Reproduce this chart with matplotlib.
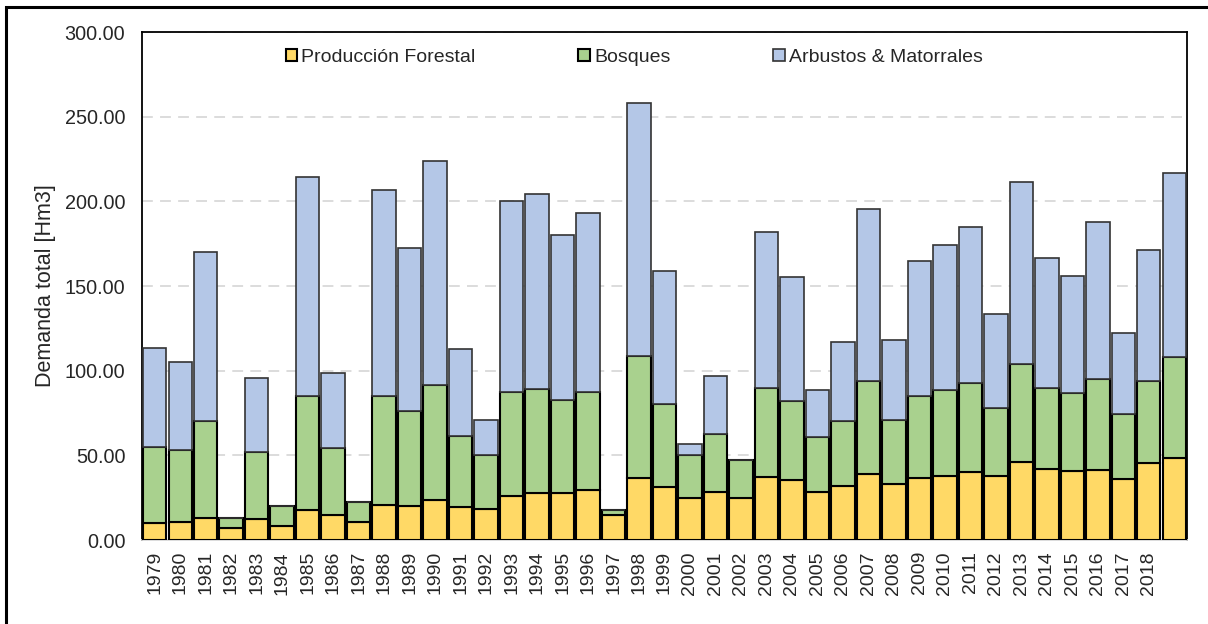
import matplotlib
matplotlib.use("Agg")
import matplotlib.pyplot as plt
from matplotlib.patches import Rectangle
import numpy as np

years = [str(y) for y in range(1979, 2019)] + [""]
# component values (stacked)
produccion = [9.8, 10.4, 12.8, 7.3, 12.2, 8.5, 17.9, 14.8, 10.4, 20.7,
              20.3, 23.6, 19.7, 18.3, 26.0, 27.9, 27.5, 29.7, 14.6, 36.6,
              31.1, 24.8, 28.5, 24.8, 37.2, 35.2, 28.3, 32.1, 38.8, 33.1,
              36.6, 37.8, 40.3, 38.0, 45.9, 42.1, 40.9, 41.5, 36.0, 45.3,
              48.2]
bosques_top = [54.7, 53.1, 70.4, 13.0, 52.1, 19.9, 85.0, 54.3, 22.4, 85.0,
               76.2, 91.3, 61.4, 50.2, 87.2, 89.1, 82.8, 87.6, 17.7, 108.8,
               80.5, 50.2, 62.8, 47.2, 89.7, 81.9, 60.8, 70.1, 94.1, 70.8,
               85.2, 88.5, 92.7, 78.1, 103.7, 89.7, 86.6, 95.2, 74.6, 93.9,
               107.8]
totales = [113.2, 104.9, 169.8, 13.0, 95.4, 19.9, 214.5, 98.6, 22.4, 206.4,
           172.2, 223.9, 112.9, 70.7, 200.3, 204.6, 179.9, 192.9, 17.7, 258.2,
           159.0, 56.9, 96.6, 47.2, 181.6, 155.1, 88.7, 116.7, 195.2, 117.9,
           164.7, 174.1, 184.6, 133.2, 211.5, 166.7, 156.0, 187.9, 122.2, 171.2,
           217.0]
series_names = ["Producción Forestal", "Bosques", "Arbustos & Matorrales"]
yticks = [0, 50, 100, 150, 200, 250, 300]

prod = np.array(produccion)
bosq = np.array(bosques_top) - prod
arb = np.array(totales) - np.array(bosques_top)

plt.rcParams['font.family'] = ['Liberation Sans', 'DejaVu Sans']

fig = plt.figure(figsize=(12.08, 6.24), dpi=100)
ax = fig.add_axes([142/1208, 1-540/624, (1187-142)/1208, (540-32)/624])

x = np.arange(len(years))
w = 0.92
c_prod = "#FFD966"
c_bosq = "#A9D18E"
c_arb = "#B4C7E7"
ax.bar(x, prod, w, color=c_prod, edgecolor="black", linewidth=1.5, label=series_names[0], zorder=3)
ax.bar(x, bosq, w, bottom=prod, color=c_bosq, edgecolor="black", linewidth=1.5, label=series_names[1], zorder=3)
ax.bar(x, arb, w, bottom=prod + bosq, color=c_arb, edgecolor="#333333", linewidth=1.2, label=series_names[2], zorder=3)

ax.set_xlim(-0.5, len(years) - 0.5)
ax.set_ylim(0, 300)
ax.set_yticks(yticks)
ax.set_yticklabels([f"{v:.2f}" for v in yticks], fontsize=14.3, color="#262626")
ax.set_xticks(x)
ax.set_xticklabels(years, rotation=90, fontsize=14, color="#262626")
ax.tick_params(axis="both", length=0)
ax.tick_params(axis="x", pad=8)
ax.tick_params(axis="y", pad=12)
ax.set_ylabel("Demanda total [Hm3]", fontsize=15.5, color="#262626", labelpad=6)

ax.yaxis.grid(True, color="#D9D9D9", linestyle=(0, (6, 4)), linewidth=1.3, zorder=0)
ax.set_axisbelow(True)
for s in ["left", "top", "right"]:
    ax.spines[s].set_color("black")
    ax.spines[s].set_linewidth(1.3)
ax.spines["bottom"].set_color("#D9D9D9")
ax.spines["bottom"].set_linewidth(1.3)

leg = ax.legend(loc="upper center", ncol=3, frameon=False, fontsize=14,
                bbox_to_anchor=(0.471, 1.0), handlelength=0.6, handleheight=0.6,
                handletextpad=0.2, columnspacing=5.3, borderaxespad=0.45)
for t in leg.get_texts():
    t.set_color("#262626")

# outer frame (top and left visible)
fig.patches.append(Rectangle((6/1208, -0.1), 1.2, (1-7/624) + 0.1, transform=fig.transFigure,
                             fill=False, edgecolor="black", linewidth=2.2))

fig.savefig("out.png", dpi=100)
